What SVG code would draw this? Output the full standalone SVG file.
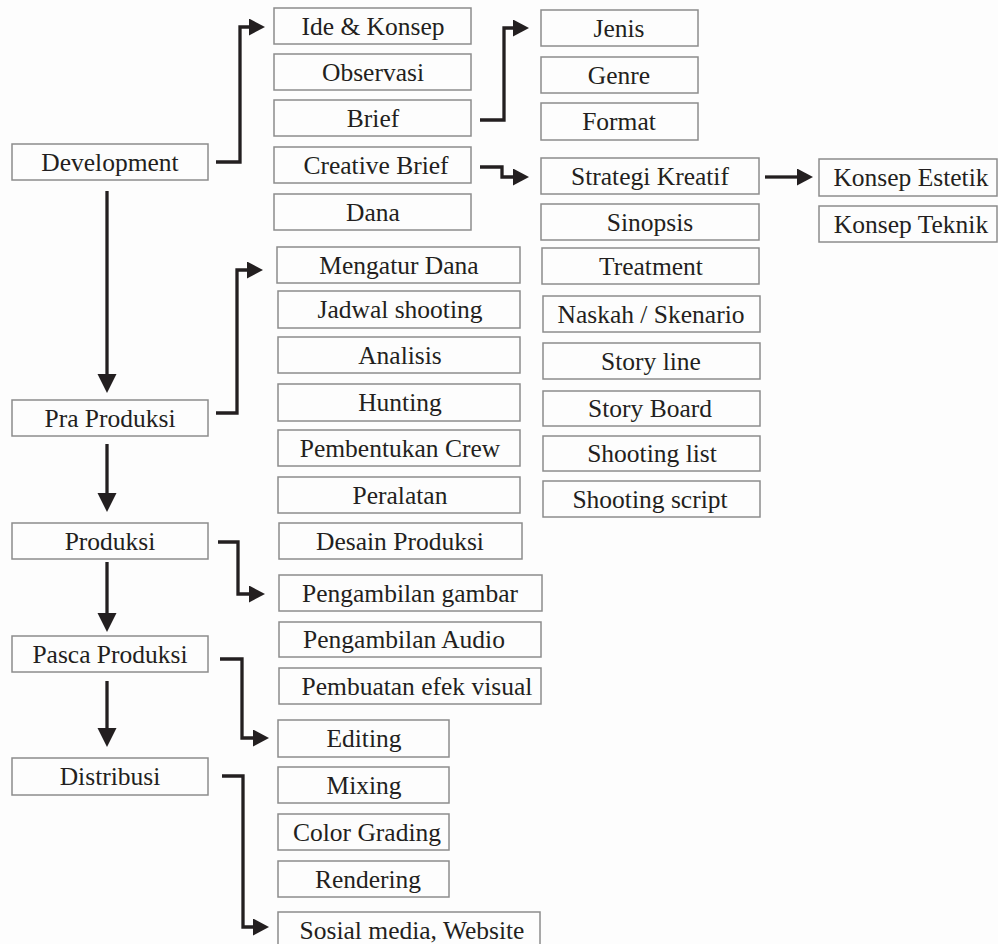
<svg xmlns="http://www.w3.org/2000/svg" width="998" height="944" viewBox="0 0 998 944">
<defs>
<style>
.bx{fill:#fdfdfd;stroke:#8c8c8c;stroke-width:1.5}
.t{font-family:"Liberation Serif","Times New Roman",serif;font-size:25.5px;fill:#231f20;text-anchor:middle}
.c{fill:none;stroke:#231f20;stroke-width:3.3;stroke-linejoin:miter}
</style>
<marker id="ah" markerUnits="userSpaceOnUse" markerWidth="17" markerHeight="18" refX="0" refY="8.5" orient="auto">
<path d="M0,0 L16,8.5 L0,17 z" fill="#231f20"/>
</marker>
<marker id="av" markerUnits="userSpaceOnUse" markerWidth="20" markerHeight="20" refX="0" refY="9.5" orient="auto">
<path d="M0,0 L19,9.5 L0,19 z" fill="#231f20"/>
</marker>
</defs>
<rect x="0" y="0" width="998" height="944" fill="#fdfdfd"/>

<g id="connectors">
<path class="c" d="M216,162 H240 V27 H249" marker-end="url(#ah)"/>
<path class="c" d="M480,120 H504 V28 H513" marker-end="url(#ah)"/>
<path class="c" d="M480,167 H502 V177 H513" marker-end="url(#ah)"/>
<path class="c" d="M765,177 H797" marker-end="url(#ah)"/>
<path class="c" d="M107,191 V374" marker-end="url(#av)"/>
<path class="c" d="M216,413 H237 V270 H247" marker-end="url(#ah)"/>
<path class="c" d="M107,444 V493" marker-end="url(#av)"/>
<path class="c" d="M218,542 H238 V594 H249" marker-end="url(#ah)"/>
<path class="c" d="M107,562 V613" marker-end="url(#av)"/>
<path class="c" d="M220,659 H242 V738 H253" marker-end="url(#ah)"/>
<path class="c" d="M107,681 V728" marker-end="url(#av)"/>
<path class="c" d="M222,776 H243 V927 H253" marker-end="url(#ah)"/>
</g>

<g id="development"><rect class="bx" x="12" y="144" width="196" height="36"/><text class="t" x="110" y="170.5">Development</text></g>
<g id="pra-produksi"><rect class="bx" x="12" y="400" width="196" height="36"/><text class="t" x="110" y="426.5">Pra Produksi</text></g>
<g id="produksi"><rect class="bx" x="12" y="523" width="196" height="36"/><text class="t" x="110" y="549.5">Produksi</text></g>
<g id="pasca-produksi"><rect class="bx" x="12" y="636" width="196" height="36"/><text class="t" x="110" y="662.5">Pasca Produksi</text></g>
<g id="distribusi"><rect class="bx" x="12" y="758" width="196" height="37"/><text class="t" x="110" y="785">Distribusi</text></g>

<g id="ide-konsep"><rect class="bx" x="274" y="8" width="197" height="36"/><text class="t" x="373" y="34.5">Ide &amp; Konsep</text></g>
<g id="observasi"><rect class="bx" x="274" y="54" width="197" height="36"/><text class="t" x="373" y="80.5">Observasi</text></g>
<g id="brief"><rect class="bx" x="274" y="100" width="197" height="36"/><text class="t" x="373" y="126.5">Brief</text></g>
<g id="creative-brief"><rect class="bx" x="274" y="147" width="197" height="36"/><text class="t" x="376" y="173.5">Creative Brief</text></g>
<g id="dana"><rect class="bx" x="274" y="194" width="197" height="36"/><text class="t" x="373" y="220.5">Dana</text></g>

<g id="mengatur-dana"><rect class="bx" x="277" y="247" width="243" height="36"/><text class="t" x="399" y="273.5">Mengatur Dana</text></g>
<g id="jadwal-shooting"><rect class="bx" x="278" y="291" width="242" height="37"/><text class="t" x="400" y="318">Jadwal shooting</text></g>
<g id="analisis"><rect class="bx" x="278" y="337" width="242" height="36"/><text class="t" x="400" y="363.5">Analisis</text></g>
<g id="hunting"><rect class="bx" x="278" y="384" width="242" height="37"/><text class="t" x="400" y="411">Hunting</text></g>
<g id="pembentukan-crew"><rect class="bx" x="278" y="430" width="242" height="36"/><text class="t" x="400" y="456.5">Pembentukan Crew</text></g>
<g id="peralatan"><rect class="bx" x="278" y="477" width="242" height="36"/><text class="t" x="400" y="503.5">Peralatan</text></g>
<g id="desain-produksi"><rect class="bx" x="279" y="523" width="243" height="36"/><text class="t" x="400" y="549.5">Desain Produksi</text></g>

<g id="pengambilan-gambar"><rect class="bx" x="279" y="575" width="263" height="36"/><text class="t" x="410" y="601.5">Pengambilan gambar</text></g>
<g id="pengambilan-audio"><rect class="bx" x="279" y="622" width="262" height="35"/><text class="t" x="404" y="648">Pengambilan Audio</text></g>
<g id="pembuatan-efek-visual"><rect class="bx" x="279" y="668" width="262" height="36"/><text class="t" x="417" y="694.5">Pembuatan efek visual</text></g>

<g id="editing"><rect class="bx" x="278" y="720" width="171" height="37"/><text class="t" x="364" y="747">Editing</text></g>
<g id="mixing"><rect class="bx" x="278" y="767" width="171" height="36"/><text class="t" x="364" y="793.5">Mixing</text></g>
<g id="color-grading"><rect class="bx" x="278" y="814" width="171" height="36"/><text class="t" x="367" y="840.5">Color Grading</text></g>
<g id="rendering"><rect class="bx" x="278" y="861" width="171" height="36"/><text class="t" x="368" y="887.5">Rendering</text></g>
<g id="sosial-media"><rect class="bx" x="278" y="912" width="262" height="36"/><text class="t" x="412" y="938.5">Sosial media, Website</text></g>

<g id="jenis"><rect class="bx" x="541" y="10" width="157" height="36"/><text class="t" x="619" y="36.5">Jenis</text></g>
<g id="genre"><rect class="bx" x="541" y="57" width="157" height="36"/><text class="t" x="619" y="83.5">Genre</text></g>
<g id="format"><rect class="bx" x="541" y="103" width="157" height="37"/><text class="t" x="619" y="130">Format</text></g>

<g id="strategi-kreatif"><rect class="bx" x="541" y="158" width="218" height="36"/><text class="t" x="650" y="184.5">Strategi Kreatif</text></g>
<g id="sinopsis"><rect class="bx" x="541" y="204" width="218" height="36"/><text class="t" x="650" y="230.5">Sinopsis</text></g>
<g id="treatment"><rect class="bx" x="542" y="248" width="217" height="36"/><text class="t" x="651" y="274.5">Treatment</text></g>
<g id="naskah-skenario"><rect class="bx" x="543" y="296" width="217" height="36"/><text class="t" x="651" y="322.5">Naskah / Skenario</text></g>
<g id="story-line"><rect class="bx" x="543" y="343" width="217" height="36"/><text class="t" x="651" y="369.5">Story line</text></g>
<g id="story-board"><rect class="bx" x="543" y="391" width="217" height="35"/><text class="t" x="650" y="417">Story Board</text></g>
<g id="shooting-list"><rect class="bx" x="543" y="436" width="217" height="35"/><text class="t" x="652" y="462">Shooting list</text></g>
<g id="shooting-script"><rect class="bx" x="543" y="481" width="217" height="36"/><text class="t" x="650" y="507.5">Shooting script</text></g>

<g id="konsep-estetik"><rect class="bx" x="819" y="159" width="178" height="37"/><text class="t" x="911" y="186">Konsep Estetik</text></g>
<g id="konsep-teknik"><rect class="bx" x="819" y="206" width="178" height="36"/><text class="t" x="911" y="232.5">Konsep Teknik</text></g>
</svg>
